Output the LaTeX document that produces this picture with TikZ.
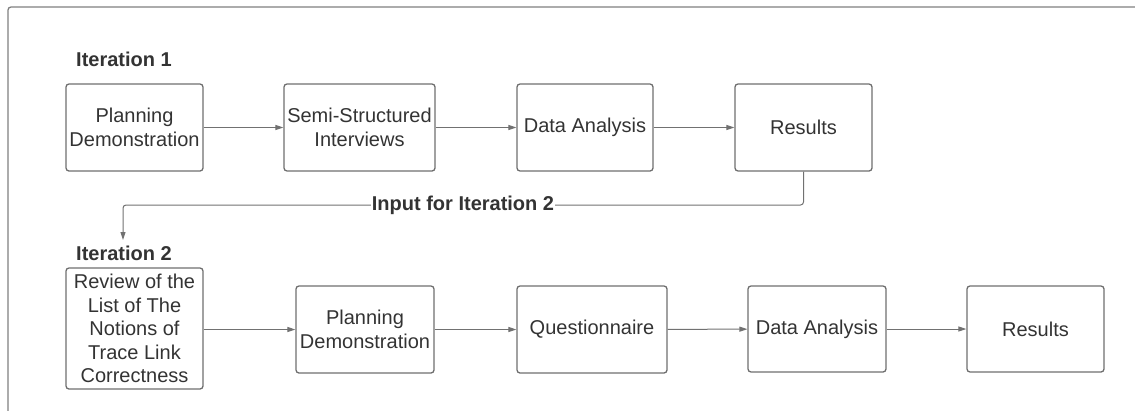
\documentclass[tikz,border=0pt]{standalone}
\usepackage{fontspec}
\setmainfont{Liberation Sans}
\usetikzlibrary{arrows.meta}
\definecolor{txt}{HTML}{333333}
\definecolor{edge}{HTML}{6E6E6E}
\definecolor{wire}{HTML}{717171}
\tikzset{
  stepbox/.style={draw=edge, line width=1.3pt, rounded corners=3pt, text=txt,
    align=center, inner sep=0pt, font=\fontsize{20}{23.5}\selectfont},
  flow/.style={draw=wire, line width=1pt, -{Triangle[length=8pt,width=5pt]}},
  phase/.style={anchor=west, inner sep=0pt, text=txt, font=\fontsize{20}{24}\selectfont\bfseries},
}
\begin{document}
\begin{tikzpicture}[x=1pt, y=-1pt]
\useasboundingbox (0,0) rectangle (1135,410);
% outer frame (open to the right and bottom)
\draw[draw=wire!90, line width=1.3pt, rounded corners=3pt] (8,420) -- (8,7) -- (1145,7);

% iteration 1
\node[phase] (it1) at (76,59) {Iteration 1};
\node[stepbox, minimum width=137pt, minimum height=87pt] (p1) at (134.5,127.5) {Planning\\Demonstration};
\node[stepbox, minimum width=151pt, minimum height=87pt] (s1) at (359.5,127.5) {Semi-Structured\\Interviews};
\node[stepbox, minimum width=136pt, minimum height=87pt] (d1) at (585,127.5) {Data Analysis};
\node[stepbox, minimum width=137pt, minimum height=87pt] (r1) at (803.5,127.5) {Results};
\draw[flow] (p1) -- (s1);
\draw[flow] (s1) -- (d1);
\draw[flow] (d1) -- (r1);

% iteration 2
\node[phase] (it2) at (76,253) {Iteration 2};
\node[stepbox, minimum width=137pt, minimum height=121pt] (rev) at (134.5,328.5)
  {Review of the\\List of The\\Notions of\\Trace Link\\Correctness};
\node[stepbox, minimum width=138pt, minimum height=87pt] (p2) at (365,329.5) {Planning\\Demonstration};
\node[stepbox, minimum width=150pt, minimum height=87pt] (q2) at (592,329.5) {Questionnaire};
\node[stepbox, minimum width=138pt, minimum height=86pt] (d2) at (817,329) {Data Analysis};
\node[stepbox, minimum width=137pt, minimum height=86pt] (r2) at (1035.5,329) {Results};
\draw[flow] (rev.east |- p2) -- (p2);
\draw[flow] (p2) -- (q2);
\draw[flow] (q2) -- (d2);
\draw[flow] (d2) -- (r2);

% feedback from iteration 1 into iteration 2
\coordinate (fbend) at (123,240);
\draw[flow, rounded corners=3pt] (r1.south) -- (803.5,205) -- (123,205) -- (fbend);
\node[fill=white, inner sep=0.5pt, text=txt, font=\fontsize{20}{24}\selectfont\bfseries] (fblabel) at (463,205) {Input for Iteration 2};
\end{tikzpicture}
\end{document}
